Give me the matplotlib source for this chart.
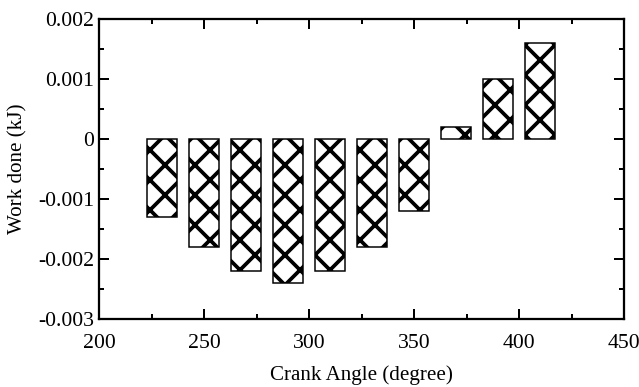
import matplotlib
matplotlib.use("Agg")
import matplotlib.pyplot as plt
from matplotlib.ticker import MultipleLocator

angles = [230, 250, 270, 290, 310, 330, 350, 370, 390, 410]
work = [-0.0013, -0.0018, -0.0022, -0.0024, -0.0022, -0.0018, -0.0012, 0.0002, 0.0010, 0.0016]
yticks = [-0.003, -0.002, -0.001, 0, 0.001, 0.002]
ytick_labels = ["-0.003", "-0.002", "-0.001", "0", "0.001", "0.002"]

DPI = 180
plt.rcParams['font.family'] = ['Liberation Serif', 'DejaVu Serif']
plt.rcParams['hatch.linewidth'] = 1.5
plt.rcParams['axes.unicode_minus'] = False

fig = plt.figure(figsize=(639 / DPI, 387 / DPI), dpi=DPI)
ax = fig.add_axes([99 / 639, 1 - 319 / 387, 525 / 639, 300 / 387])

ax.bar(angles, work, width=14.5, facecolor='white', edgecolor='black',
       linewidth=0.6, hatch='xx')

ax.set_xlim(200, 450)
ax.set_ylim(-0.003, 0.002)
ax.xaxis.set_major_locator(MultipleLocator(50))
ax.xaxis.set_minor_locator(MultipleLocator(25))
ax.set_yticks(yticks)
ax.set_yticklabels(ytick_labels)
ax.yaxis.set_minor_locator(MultipleLocator(0.0005))

ax.tick_params(which='both', direction='in', top=True, right=True,
               labelsize=8.7, width=0.8)
ax.tick_params(axis='x', which='both', pad=6)
ax.tick_params(axis='y', which='both', pad=2)
ax.tick_params(which='major', length=4)
ax.tick_params(which='minor', length=2)
for s in ax.spines.values():
    s.set_linewidth(0.9)

ax.set_xlabel('Crank Angle (degree)', fontsize=8.4, labelpad=5)
ax.set_ylabel('Work done (kJ)', fontsize=8.4, labelpad=4)

fig.savefig('out.png', dpi=DPI)
